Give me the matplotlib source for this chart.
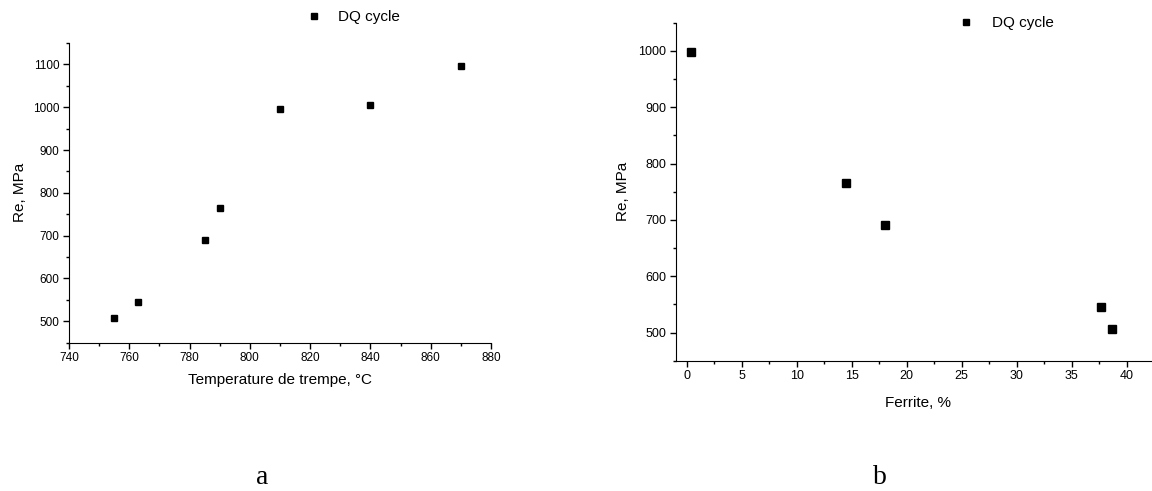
import numpy as np
import matplotlib
matplotlib.use('Agg')
import matplotlib.pyplot as plt
from matplotlib.ticker import MultipleLocator

plt.rcParams['font.family'] = ['Liberation Sans', 'DejaVu Sans']

#______ datos (a): Re vs temperatura de temple ______
temp_a = [755, 763, 785, 790, 810, 840, 870]
re_a   = [507, 545, 691, 765, 997, 1006, 1097]

#______ datos (b): Re vs ferrita ______
ferr_b = [0.4, 14.5, 18.0, 37.7, 38.7]
re_b   = [998, 765, 691, 545, 507]

serie  = 'DQ cycle'
W, H   = 1152, 491

fig = plt.figure(figsize=(W/100, H/100), dpi=100)

def px(x0, x1, y0, y1):
    # caja en pixeles -> fracciones de figura
    return [x0/W, 1 - y1/H, (x1 - x0)/W, (y1 - y0)/H]

def estilo(ax, fs):
    for s in ['top', 'right']:
        ax.spines[s].set_visible(False)
    ax.tick_params(which='major', direction='out', length=4, width=1, labelsize=fs, pad=3)
    ax.tick_params(which='minor', direction='out', length=2.5, width=1)

#________ (a) ________
ax1 = fig.add_axes(px(69, 491, 43, 342.7))
ax1.plot(temp_a, re_a, 's', color='black', ms=5, label=serie)
ax1.set_xlim(740, 880)
ax1.set_ylim(450, 1150)
ax1.xaxis.set_major_locator(MultipleLocator(20))
ax1.xaxis.set_minor_locator(MultipleLocator(10))
ax1.yaxis.set_major_locator(MultipleLocator(100))
ax1.yaxis.set_minor_locator(MultipleLocator(50))
estilo(ax1, 8.5)
ax1.set_xlabel('Temperature de trempe, °C', fontsize=11, labelpad=6)
ax1.set_ylabel('Re, MPa', fontsize=11, labelpad=4)
ax1.legend(loc='upper left', bbox_to_anchor=(306/W, 1 - 10/H), bbox_transform=fig.transFigure,
           frameon=False, fontsize=11, handlelength=1.0, handletextpad=1.1,
           borderpad=0, borderaxespad=0, markerscale=0.9)

#________ (b) ________
ax2 = fig.add_axes(px(675.7, 1159.7, 22.7, 360.7))
ax2.plot(ferr_b, re_b, 's', color='black', ms=5.5, label=serie)
ax2.set_xlim(-1, 43)
ax2.set_ylim(450, 1050)
ax2.xaxis.set_major_locator(MultipleLocator(5))
ax2.xaxis.set_minor_locator(MultipleLocator(2.5))
ax2.yaxis.set_major_locator(MultipleLocator(100))
ax2.yaxis.set_minor_locator(MultipleLocator(50))
estilo(ax2, 9)
ax2.set_xticks([0, 5, 10, 15, 20, 25, 30, 35, 40])
ax2.set_xlabel('Ferrite, %', fontsize=11, labelpad=10)
ax2.set_ylabel('Re, MPa', fontsize=11, labelpad=6)
ax2.legend(loc='upper left', bbox_to_anchor=(958/W, 1 - 16/H), bbox_transform=fig.transFigure,
           frameon=False, fontsize=11, handlelength=1.0, handletextpad=1.2,
           borderpad=0, borderaxespad=0, markerscale=0.9)

# rotulos de las subfiguras
fig.text(262/W, 1 - 478/H, 'a', fontsize=20, family='Liberation Serif', ha='center', va='center')
fig.text(880/W, 1 - 478/H, 'b', fontsize=20, family='Liberation Serif', ha='center', va='center')

fig.savefig('out.png', dpi=100)
